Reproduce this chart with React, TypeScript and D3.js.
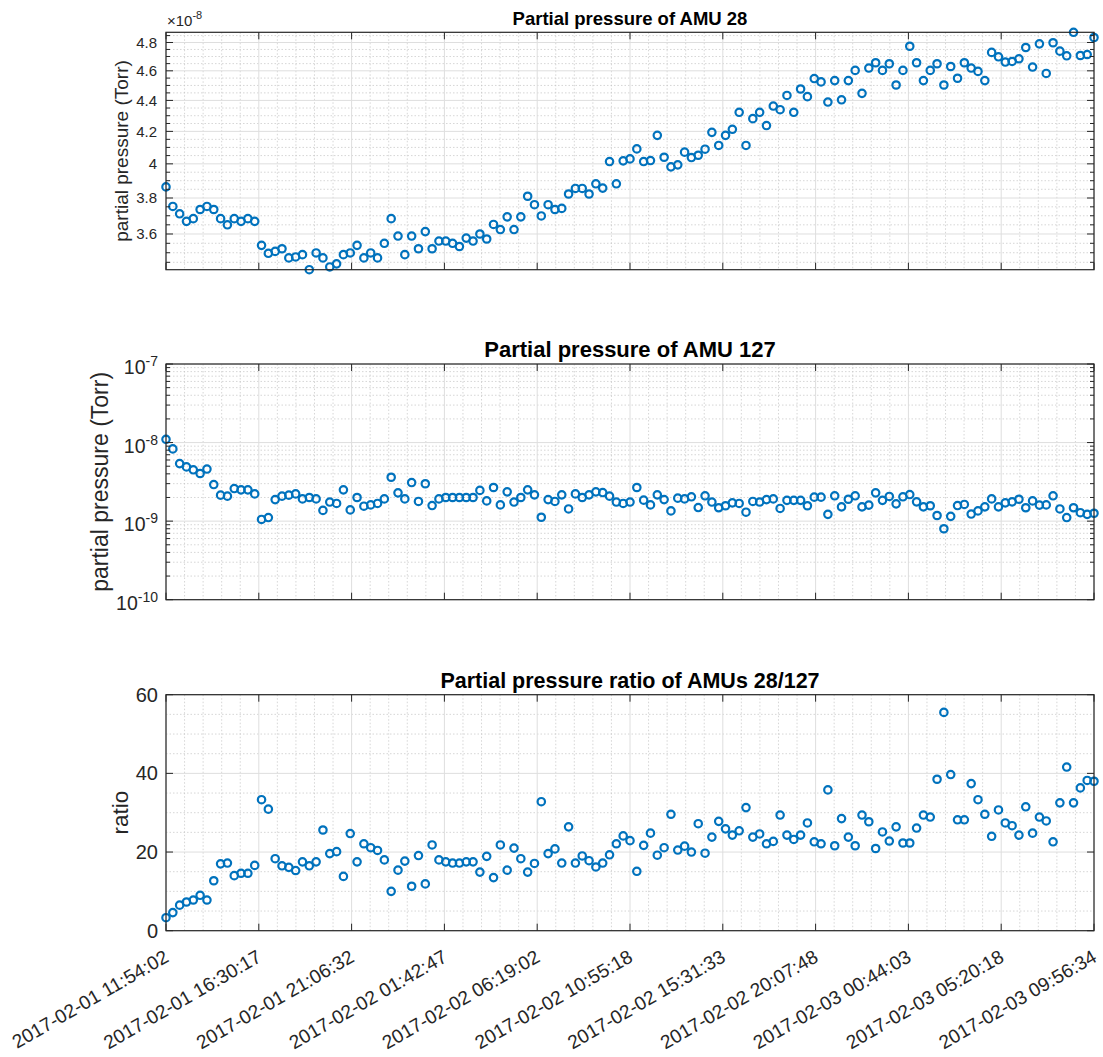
import React from 'react';
import * as d3 from 'd3';

// ---------------- data ----------------
const xTickLabels = [
  '2017-02-01 11:54:02', '2017-02-01 16:30:17', '2017-02-01 21:06:32',
  '2017-02-02 01:42:47', '2017-02-02 06:19:02', '2017-02-02 10:55:18',
  '2017-02-02 15:31:33', '2017-02-02 20:07:48', '2017-02-03 00:44:03',
  '2017-02-03 05:20:18', '2017-02-03 09:56:34',
];

// AMU 28 partial pressure, in units of 1e-8 Torr
const amu28 = [
  3.864, 3.752, 3.711, 3.669, 3.684, 3.735, 3.752, 3.735, 3.684, 3.650,
  3.684, 3.669, 3.684, 3.669, 3.539, 3.497, 3.507, 3.521, 3.473, 3.478,
  3.490, 3.412, 3.499, 3.473, 3.426, 3.442, 3.490, 3.499, 3.539, 3.473,
  3.499, 3.473, 3.550, 3.684, 3.589, 3.490, 3.589, 3.521, 3.613, 3.521,
  3.562, 3.562, 3.550, 3.533, 3.578, 3.562, 3.600, 3.573, 3.652, 3.624,
  3.694, 3.624, 3.694, 3.810, 3.762, 3.699, 3.762, 3.735, 3.741, 3.823,
  3.855, 3.855, 3.823, 3.882, 3.857, 4.014, 3.882, 4.018, 4.030, 4.091,
  4.014, 4.020, 4.175, 4.040, 3.982, 3.994, 4.071, 4.038, 4.052, 4.089,
  4.194, 4.112, 4.175, 4.213, 4.322, 4.112, 4.281, 4.322, 4.237, 4.363,
  4.339, 4.433, 4.322, 4.476, 4.425, 4.547, 4.524, 4.389, 4.533, 4.404,
  4.533, 4.603, 4.447, 4.619, 4.656, 4.603, 4.649, 4.503, 4.603, 4.773,
  4.656, 4.533, 4.603, 4.649, 4.503, 4.630, 4.549, 4.656, 4.619, 4.596,
  4.533, 4.729, 4.698, 4.661, 4.665, 4.684, 4.764, 4.626, 4.790, 4.582,
  4.798, 4.738, 4.705, 4.874, 4.707, 4.714, 4.836,
];

// AMU 127 partial pressure, Torr
const amu127 = [
  1.10e-8, 8.3e-9, 5.4e-9, 4.9e-9, 4.5e-9, 4.04e-9, 4.6e-9, 2.92e-9, 2.14e-9, 2.08e-9,
  2.60e-9, 2.50e-9, 2.50e-9, 2.22e-9, 1.05e-9, 1.11e-9, 1.88e-9, 2.08e-9, 2.14e-9, 2.22e-9,
  1.92e-9, 2.00e-9, 1.92e-9, 1.37e-9, 1.75e-9, 1.68e-9, 2.50e-9, 1.39e-9, 2.00e-9, 1.55e-9,
  1.61e-9, 1.68e-9, 1.92e-9, 3.62e-9, 2.29e-9, 1.92e-9, 3.10e-9, 1.78e-9, 2.99e-9, 1.58e-9,
  1.92e-9, 2.00e-9, 2.00e-9, 2.00e-9, 2.00e-9, 2.00e-9, 2.46e-9, 1.81e-9, 2.68e-9, 1.61e-9,
  2.36e-9, 1.75e-9, 2.00e-9, 2.50e-9, 2.16e-9, 1.12e-9, 1.88e-9, 1.78e-9, 2.16e-9, 1.43e-9,
  2.22e-9, 2.00e-9, 2.16e-9, 2.36e-9, 2.31e-9, 2.08e-9, 1.75e-9, 1.68e-9, 1.75e-9, 2.68e-9,
  1.85e-9, 1.61e-9, 2.16e-9, 1.88e-9, 1.35e-9, 1.96e-9, 1.92e-9, 2.04e-9, 1.49e-9, 2.10e-9,
  1.75e-9, 1.48e-9, 1.57e-9, 1.71e-9, 1.68e-9, 1.30e-9, 1.78e-9, 1.75e-9, 1.88e-9, 1.92e-9,
  1.45e-9, 1.84e-9, 1.84e-9, 1.84e-9, 1.57e-9, 2.02e-9, 2.02e-9, 1.22e-9, 2.10e-9, 1.52e-9,
  1.90e-9, 2.10e-9, 1.52e-9, 1.60e-9, 2.29e-9, 1.84e-9, 2.06e-9, 1.66e-9, 2.04e-9, 2.18e-9,
  1.76e-9, 1.52e-9, 1.57e-9, 1.18e-9, 0.80e-9, 1.15e-9, 1.58e-9, 1.63e-9, 1.23e-9, 1.35e-9,
  1.52e-9, 1.92e-9, 1.52e-9, 1.71e-9, 1.76e-9, 1.90e-9, 1.48e-9, 1.81e-9, 1.60e-9, 1.61e-9,
  2.10e-9, 1.43e-9, 1.11e-9, 1.48e-9, 1.28e-9, 1.22e-9, 1.26e-9,
];

// ratio AMU28 / AMU127
const ratio = [
  3.3, 4.6, 6.5, 7.3, 7.8, 9.0, 7.8, 12.7, 17.0, 17.2,
  14.0, 14.6, 14.6, 16.6, 33.3, 30.9, 18.3, 16.5, 16.1, 15.3,
  17.5, 16.5, 17.5, 25.6, 19.6, 20.1, 13.8, 24.7, 17.5, 22.1,
  21.1, 20.4, 18.0, 10.0, 15.4, 17.7, 11.3, 19.1, 11.9, 21.8,
  18.0, 17.5, 17.2, 17.2, 17.5, 17.5, 14.9, 18.9, 13.5, 21.8,
  15.4, 21.0, 18.3, 14.9, 17.1, 32.8, 19.6, 20.8, 17.2, 26.4,
  17.2, 19.0, 17.8, 16.2, 17.2, 19.3, 22.1, 24.1, 22.9, 15.1,
  21.7, 24.8, 19.2, 21.1, 29.6, 20.5, 21.5, 20.0, 27.2, 19.7,
  23.8, 27.8, 25.9, 24.3, 25.4, 31.3, 23.8, 24.6, 22.1, 22.7,
  29.4, 24.3, 23.2, 24.3, 27.4, 22.6, 22.1, 35.8, 21.6, 28.5,
  23.8, 21.6, 29.4, 27.7, 20.9, 25.1, 22.8, 26.4, 22.3, 22.3,
  26.1, 29.4, 28.9, 38.5, 55.5, 39.7, 28.2, 28.2, 37.4, 33.3,
  29.6, 24.0, 30.7, 27.4, 26.7, 24.3, 31.5, 24.8, 28.9, 27.9,
  22.6, 32.5, 41.6, 32.5, 36.3, 38.2, 38.0,
];

const titles = [
  'Partial pressure of AMU 28',
  'Partial pressure of AMU 127',
  'Partial pressure ratio of AMUs 28/127',
];
const yLabels = ['partial pressure (Torr)', 'partial pressure (Torr)', 'ratio'];
const amu28Ticks = [3.6, 3.8, 4, 4.2, 4.4, 4.6, 4.8];
const amu127Exponents = [-10, -9, -8, -7];
const ratioTicks = [0, 20, 40, 60];

// ---------------- layout / style ----------------
const W = 1103;
const H = 1057;
const LEFT = 166;
const RIGHT = 1094;
const FONT = '"Liberation Sans", Arial, Helvetica, sans-serif';
const AX = '#262626';
const BLUE = '#0072BD';
const GRID = '#dedede';
const GRID_MINOR = '#c4c4c4';
const TICK = 7;
const MINOR_TICK = 4;

const parse = d3.timeParse('%Y-%m-%d %H:%M:%S');
const tickTimes = xTickLabels.map((s) => parse(s) as Date);
const t0 = tickTimes[0];
const t1 = tickTimes[tickTimes.length - 1];
const x = d3.scaleTime().domain([t0, t1]).range([LEFT, RIGHT]);
const sampleTime = d3
  .scaleLinear()
  .domain([0, amu28.length - 1])
  .range([+t0, +t1]);

const minorXTimes: Date[] = [];
for (let i = 0; i < tickTimes.length - 1; i++) {
  const a = +tickTimes[i];
  const b = +tickTimes[i + 1];
  for (let k = 1; k < 5; k++) minorXTimes.push(new Date(a + ((b - a) * k) / 5));
}

type PanelProps = {
  top: number;
  bottom: number;
  y: (v: number) => number;
  majorY: number[];
  minorY: number[];
  minorTicks: boolean;
  values: number[];
  yTickLabel: (v: number, i: number) => React.ReactNode;
};

function Panel({ top, bottom, y, majorY, minorY, minorTicks, values, yTickLabel }: PanelProps) {
  return (
    <g>
      <rect x={LEFT} y={top} width={RIGHT - LEFT} height={bottom - top} fill="#fff" />
      {/* minor grid */}
      {minorXTimes.map((t, i) => (
        <line key={'mx' + i} x1={x(t)} x2={x(t)} y1={top} y2={bottom}
          stroke={GRID_MINOR} strokeWidth={0.7} strokeDasharray="1.5,2" />
      ))}
      {minorY.map((v, i) => (
        <line key={'my' + i} x1={LEFT} x2={RIGHT} y1={y(v)} y2={y(v)}
          stroke={GRID_MINOR} strokeWidth={0.7} strokeDasharray="1.5,2" />
      ))}
      {/* major grid */}
      {tickTimes.map((t, i) => (
        <line key={'gx' + i} x1={x(t)} x2={x(t)} y1={top} y2={bottom} stroke={GRID} strokeWidth={1} />
      ))}
      {majorY.map((v, i) => (
        <line key={'gy' + i} x1={LEFT} x2={RIGHT} y1={y(v)} y2={y(v)} stroke={GRID} strokeWidth={1} />
      ))}
      {/* data */}
      {values.map((v, i) => (
        <circle key={'p' + i} cx={x(new Date(sampleTime(i)))} cy={y(v)} r={3.7}
          fill="none" stroke={BLUE} strokeWidth={2.2} />
      ))}
      {/* ticks */}
      {tickTimes.map((t, i) => (
        <g key={'tx' + i}>
          <line x1={x(t)} x2={x(t)} y1={bottom} y2={bottom - TICK} stroke={AX} strokeWidth={1} />
          <line x1={x(t)} x2={x(t)} y1={top} y2={top + TICK} stroke={AX} strokeWidth={1} />
        </g>
      ))}
      {majorY.map((v, i) => (
        <g key={'ty' + i}>
          <line x1={LEFT} x2={LEFT + TICK} y1={y(v)} y2={y(v)} stroke={AX} strokeWidth={1} />
          <line x1={RIGHT} x2={RIGHT - TICK} y1={y(v)} y2={y(v)} stroke={AX} strokeWidth={1} />
        </g>
      ))}
      {minorTicks &&
        minorY.map((v, i) => (
          <g key={'tmy' + i}>
            <line x1={LEFT} x2={LEFT + MINOR_TICK} y1={y(v)} y2={y(v)} stroke={AX} strokeWidth={1} />
            <line x1={RIGHT} x2={RIGHT - MINOR_TICK} y1={y(v)} y2={y(v)} stroke={AX} strokeWidth={1} />
          </g>
        ))}
      {/* box */}
      <rect x={LEFT} y={top} width={RIGHT - LEFT} height={bottom - top} fill="none" stroke={AX} strokeWidth={1.2} />
      {/* y tick labels */}
      {majorY.map((v, i) => (
        <g key={'yl' + i}>{yTickLabel(v, i)}</g>
      ))}
    </g>
  );
}

export default function App() {
  // ---- panel 1 (AMU 28, log scale, x1e-8)
  const p1 = { top: 32.3, bottom: 269.7 };
  const ext28 = d3.extent(amu28) as [number, number];
  const y1 = d3.scaleLog().domain(ext28).range([p1.bottom, p1.top]);
  const minor28: number[] = [];
  for (let k = 0; k <= 40; k++) {
    const v = +(3.4 + k * 0.05).toFixed(2);
    if (v >= ext28[0] && v <= ext28[1] && !amu28Ticks.some((m) => Math.abs(m - v) < 1e-6)) minor28.push(v);
  }

  // ---- panel 2 (AMU 127, log scale)
  const p2 = { top: 364, bottom: 599.7 };
  const y2 = d3.scaleLog().domain([1e-10, 1e-7]).range([p2.bottom, p2.top]);
  const major127 = amu127Exponents.map((e) => Math.pow(10, e));
  const minor127: number[] = [];
  for (let e = -10; e < -7; e++) for (let k = 2; k <= 9; k++) minor127.push(k * Math.pow(10, e));

  // ---- panel 3 (ratio, linear)
  const p3 = { top: 694.7, bottom: 930.7 };
  const y3 = d3.scaleLinear().domain([0, 60]).range([p3.bottom, p3.top]);
  const minorRatio = d3.range(5, 60, 5).filter((v) => v % 20 !== 0);

  const fmt28 = d3.format('~g');

  return (
    <svg width={W} height={H} style={{ position: 'absolute', left: 0, top: 0, background: '#fff' }}
      fontFamily={FONT}>
      <rect x={0} y={0} width={W} height={H} fill="#fff" />

      <Panel top={p1.top} bottom={p1.bottom} y={y1} majorY={amu28Ticks} minorY={minor28}
        minorTicks values={amu28}
        yTickLabel={(v) => (
          <text x={LEFT - 9} y={y1(v) + 5.2} textAnchor="end" fontSize={15} fill={AX}>{fmt28(v)}</text>
        )} />
      <text x={LEFT + 1} y={26} fontSize={15} fill={AX}>
        ×10<tspan dy={-7} fontSize={11}>-8</tspan>
      </text>

      <Panel top={p2.top} bottom={p2.bottom} y={y2} majorY={major127} minorY={minor127}
        minorTicks values={amu127}
        yTickLabel={(v, i) => (
          <text x={LEFT - 8} y={y2(v) + 10} textAnchor="end" fontSize={19.5} fill={AX}>
            10<tspan dy={-8} fontSize={14}>{String(amu127Exponents[i])}</tspan>
          </text>
        )} />

      <Panel top={p3.top} bottom={p3.bottom} y={y3} majorY={ratioTicks} minorY={minorRatio}
        minorTicks={false} values={ratio}
        yTickLabel={(v) => (
          <text x={LEFT - 8} y={y3(v) + 7} textAnchor="end" fontSize={20} fill={AX}>{v}</text>
        )} />

      {/* x tick labels on the bottom panel */}
      {tickTimes.map((t, i) => (
        <text key={'xl' + i} transform={`translate(${x(t) + 4},${p3.bottom + 30}) rotate(-30)`}
          textAnchor="end" fontSize={19.2} fill={AX}>{xTickLabels[i]}</text>
      ))}

      {/* titles */}
      <text x={(LEFT + RIGHT) / 2} y={25} textAnchor="middle" fontSize={18.5} fontWeight="bold" fill="#000">{titles[0]}</text>
      <text x={(LEFT + RIGHT) / 2} y={357} textAnchor="middle" fontSize={22} fontWeight="bold" fill="#000">{titles[1]}</text>
      <text x={(LEFT + RIGHT) / 2} y={688} textAnchor="middle" fontSize={21.5} fontWeight="bold" fill="#000">{titles[2]}</text>

      {/* y labels */}
      <text transform={`translate(128,${(p1.top + p1.bottom) / 2}) rotate(-90)`} textAnchor="middle" fontSize={19} fill={AX}>{yLabels[0]}</text>
      <text transform={`translate(108,${(p2.top + p2.bottom) / 2}) rotate(-90)`} textAnchor="middle" fontSize={23} fill={AX}>{yLabels[1]}</text>
      <text transform={`translate(128,${(p3.top + p3.bottom) / 2}) rotate(-90)`} textAnchor="middle" fontSize={22.5} fill={AX}>{yLabels[2]}</text>
    </svg>
  );
}
